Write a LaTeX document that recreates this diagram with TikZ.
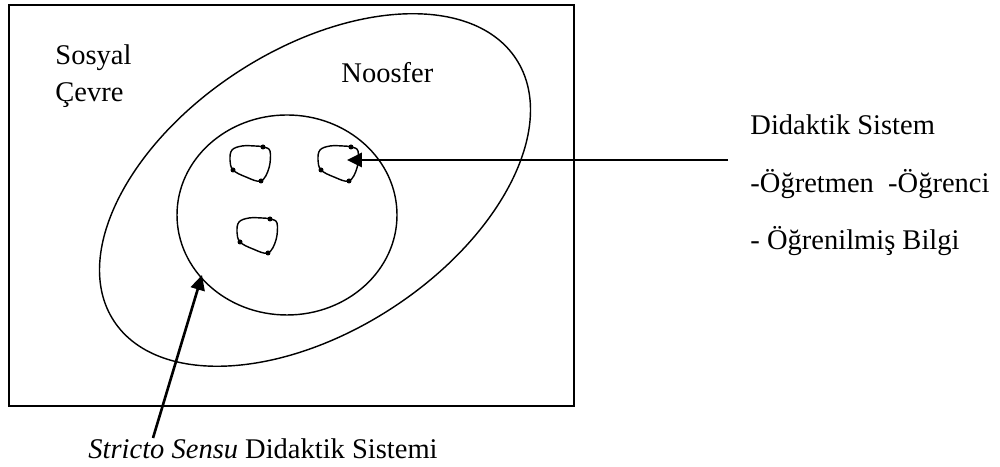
\documentclass[tikz,border=0pt]{standalone}
\usepackage{fontspec}
\setmainfont{Liberation Serif}
\usetikzlibrary{arrows.meta}

\begin{document}
\begin{tikzpicture}[x=0.421pt,y=0.421pt,
  lbl/.style={font=\fontsize{12}{15.6}\selectfont, inner sep=0pt, anchor=base west},
  arr/.style={-{Triangle[length=6.3pt,width=6pt]}, line width=1.1pt},
  ring/.style={line width=0.6pt}]
  \useasboundingbox (0,0) rectangle (1000,467);
  % social environment, noosphere, didactic system
  \draw[line width=0.8pt] (9,61) rectangle (574,462);
  \draw[ring, rotate around={33:(315,277)}] (315,277) ellipse [x radius=240, y radius=141];
  \draw[ring] (287,252) ellipse [x radius=110, y radius=100];
  % the three small systems
  \foreach \bx/\by in {230/321, 318/321, 237/249}{
    \draw[ring, shift={(\bx,\by)}] plot[smooth cycle, tension=0.6] coordinates {(2,-4) (12,0) (25,0) (33,-1) (40,-5) (39,-22) (31,-35) (16,-31) (3,-24) (0,-14)};
    \foreach \dx/\dy in {33/-1, 31/-35, 3/-24}{\fill[shift={(\bx,\by)}] (\dx,\dy) circle (2.5);}
  }
  % labels (base = last line)
  \node[lbl, align=left] (sosyal) at (55,365) {Sosyal\\Çevre};
  \node[lbl] (noosfer) at (341,384) {Noosfer};
  \node[lbl, align=left, font=\fontsize{12}{24.4}\selectfont] (didsys) at (750,217) {Didaktik Sistem\\-Öğretmen\ \ -Öğrenci\\- Öğrenilmiş Bilgi};
  \node[lbl] (stricto) at (88,8) {\textit{Stricto Sensu} Didaktik Sistemi};
  % arrows
  \coordinate (didTail) at (728,307);
  \coordinate (didTip) at (347,307);
  \coordinate (ssTail) at (153,29);
  \coordinate (ssTip) at (202,192);
  \draw[arr] (didTail) -- (didTip);
  \draw[arr] (ssTail) -- (ssTip);
\end{tikzpicture}
\end{document}
